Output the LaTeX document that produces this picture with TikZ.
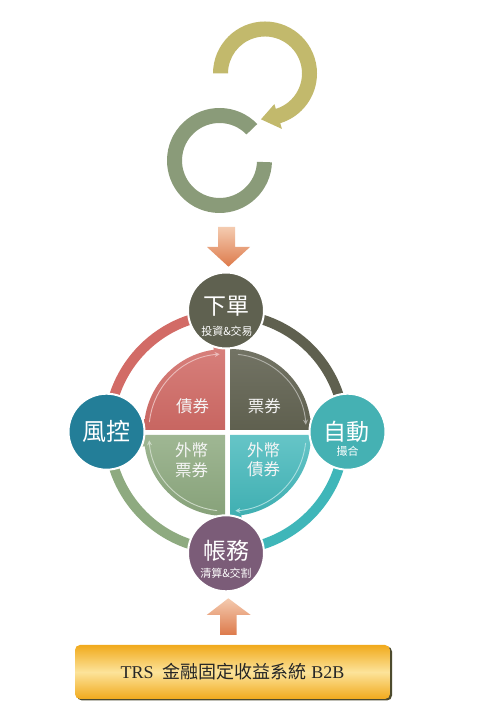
\documentclass[tikz,border=0pt]{standalone}
\usepackage{fontspec}
\setmainfont{Liberation Serif}
\newfontfamily\cjk{Noto Sans CJK TC}
\usetikzlibrary{arrows.meta}
\definecolor{yellowarc}{HTML}{C2B96C}
\definecolor{greenarc}{HTML}{8A9B79}
\definecolor{arrowlight}{HTML}{F4CBB0}
\definecolor{arrowdark}{HTML}{DD7A4B}
\definecolor{cTop}{HTML}{5F6150}
\definecolor{cRight}{HTML}{45B1B3}
\definecolor{cLeft}{HTML}{237E98}
\definecolor{cBottom}{HTML}{7B5C78}
\definecolor{rRed}{HTML}{D26B66}
\definecolor{rDark}{HTML}{5F604F}
\definecolor{rTeal}{HTML}{3FB6B9}
\definecolor{rGreen}{HTML}{8EAA80}
\definecolor{boxorange}{HTML}{F1AA1C}
\definecolor{boxlight}{HTML}{FCE39A}
\definecolor{boxshadow}{HTML}{4D4B2E}
\newcommand\qpie[5]{%
  \begin{scope}[shift={#1}]
    \path[top color=#3, bottom color=#4]
      (0,0) -- (#2:81) arc[start angle=#2, delta angle=-90, radius=81] -- cycle
      ({#2-82}:73) -- ({#2-82}:89) -- ({#2-90}:81) -- cycle;
    \draw[#5, line width=.9pt, -{Stealth[length=5pt,width=5pt]}]
      ({#2-6}:76) arc[start angle={#2-6}, delta angle=-80, radius=76];
  \end{scope}}
\tikzset{
  bigc/.style={circle, minimum size=76pt, inner sep=0pt, draw=white, line width=2pt},
  maintxt/.style={text=white, font=\cjk\fontsize{23}{23}\selectfont, inner sep=0pt},
  subtxt/.style={text=white, font=\cjk\fontsize{11}{11}\selectfont, inner sep=0pt},
  qtxt/.style={text=white!92!gray, font=\cjk\fontsize{16.5}{19.5}\selectfont, inner sep=0pt, align=center},
  ring/.style={line width=10pt},
}
\begin{document}
\begin{tikzpicture}[x=1pt,y=1pt]
\useasboundingbox (0,0) rectangle (480,708);
\fill[white] (0,0) rectangle (480,708);

% top cycle arrows
\fill[greenarc, shift={(219.5,547.5)}]
  (44:52.5) arc[start angle=44, end angle=358, radius=52.5]
  -- (358:37.5) arc[start angle=358, end angle=44, radius=37.5] -- cycle;
\fill[yellowarc, shift={(265,634.5)}]
  (180:52) arc[start angle=180, end angle=-73, radius=52]
  -- (-73:58) -- (-95:46) -- (-73:32) -- (-73:37)
  arc[start angle=-73, end angle=180, radius=37] -- cycle;

% down arrow
\path[top color=arrowlight, bottom color=arrowdark]
  (218,481) -- (235,481) -- (235,461) -- (250,461) -- (228.5,441.3)
  -- (207,461) -- (218,461) -- cycle;

% ring
\coordinate (O) at (226.5,276);
\draw[ring, rRed]   ([shift={(180:118)}]O) arc[start angle=180, end angle=90,  radius=118];
\draw[ring, rDark]  ([shift={(90:118)}]O)  arc[start angle=90,  end angle=0,   radius=118];
\draw[ring, rTeal]  ([shift={(0:118)}]O)   arc[start angle=0,   end angle=-90, radius=118];
\draw[ring, rGreen] ([shift={(-90:118)}]O) arc[start angle=-90, end angle=-180, radius=118];

% pie quadrants
\qpie{(225,278)}{180}{rRed!85!white}{rRed!95!black}{white!55!rRed}
\qpie{(230,278)}{90}{rDark!88!white}{rDark}{white!50!rDark}
\qpie{(230,273)}{0}{rTeal!80!white}{rTeal!95!black}{white!55!rTeal}
\qpie{(225,273)}{-90}{rGreen!85!white}{rGreen!95!black}{white!55!rGreen}

\node[qtxt] (q1) at (192.7,301.3) {債券};
\node[qtxt] (q2) at (264.3,301.3) {票券};
\node[qtxt] (q3) at (191.7,248) {外幣\\票券};
\node[qtxt] (q4) at (263.7,248) {外幣\\債券};

% circles
\node[bigc, fill=cTop]    (top)    at (226,397.5) {};
\node[bigc, fill=cRight]  (right)  at (347.5,276.3) {};
\node[bigc, fill=cLeft]   (left)   at (106.5,276.3) {};
\node[bigc, fill=cBottom] (bottom) at (226,154.7) {};

\node[maintxt] (t1) at (226,401.3) {下單};
\node[subtxt]  (s1) at (227,376.3) {投資\&交易};
\node[maintxt] (t2) at (346.7,276.3) {自動};
\node[subtxt]  (s2) at (347.5,257) {撮合};
\node[maintxt, font=\cjk\fontsize{24}{24}\selectfont] (t3) at (106.7,277) {風控};
\node[maintxt] (t4) at (226.5,157) {帳務};
\node[subtxt]  (s4) at (226,135) {清算\&交割};

% up arrow
\path[top color=arrowlight, bottom color=arrowdark]
  (220,73) -- (236.7,73) -- (236.7,93) -- (250.7,93) -- (228.3,109.7)
  -- (206.7,93) -- (220,93) -- cycle;

% bottom box
\fill[boxshadow, rounded corners=5pt] (77,7.5) rectangle (392,61.5);
\node[rounded corners=5pt, minimum width=315pt, minimum height=54pt, inner sep=0pt,
      top color=boxorange, bottom color=boxorange, middle color=boxlight,
      text=black!85, font=\fontsize{18}{18}\selectfont] (sys) at (232.5,36)
  {TRS\ \ {\cjk 金融固定收益系統} B2B};
\end{tikzpicture}
\end{document}
